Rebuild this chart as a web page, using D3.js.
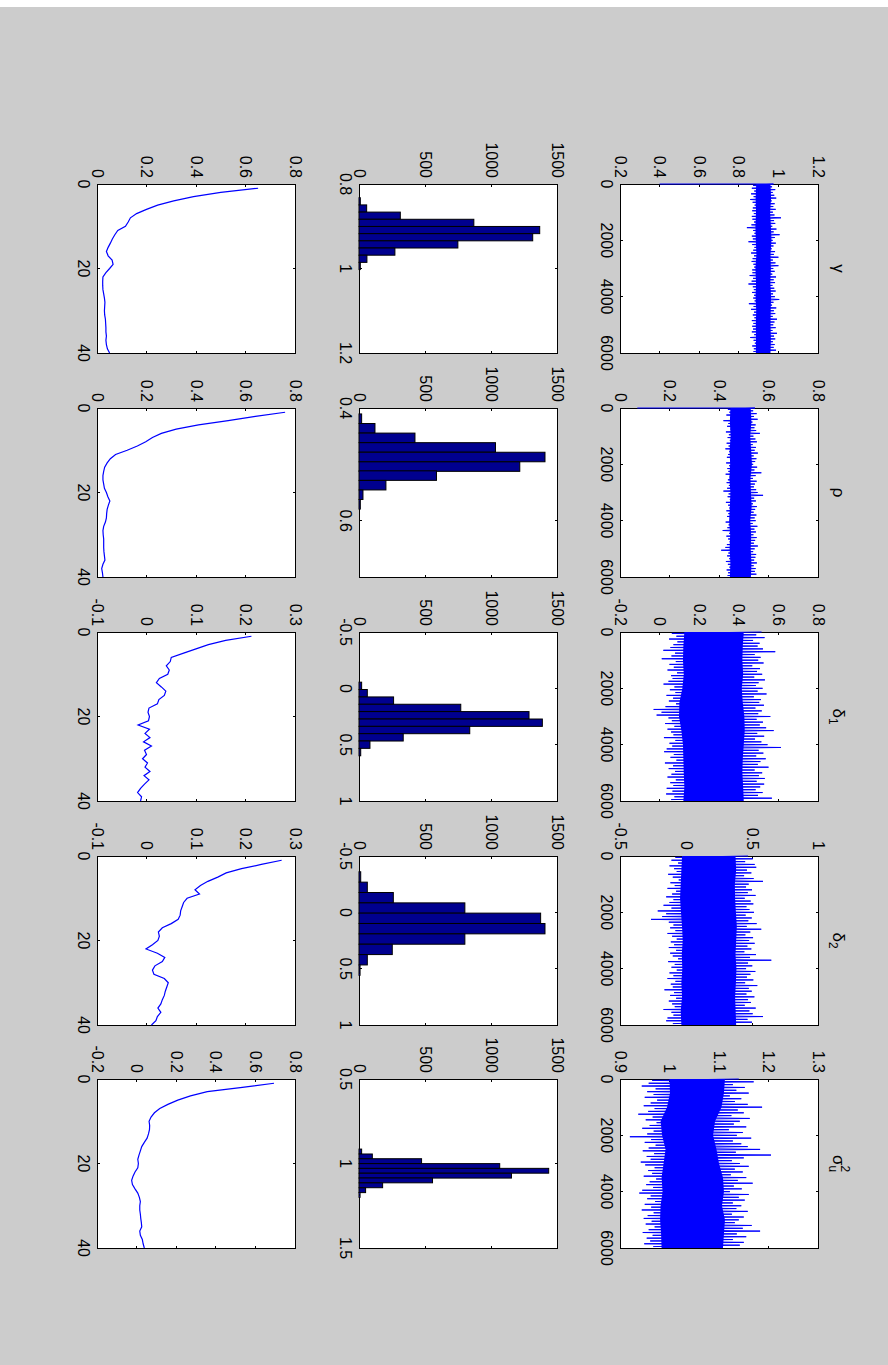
<!DOCTYPE html>
<html>
<head>
<meta charset="utf-8">
<script src="https://cdn.jsdelivr.net/npm/d3@7/dist/d3.min.js"></script>
<style>
  body { margin: 0; background: #fff; }
  text { font-family: "Liberation Sans", Arial, Helvetica, sans-serif; fill: #000; }
</style>
</head>
<body>
<script>
// MCMC output for five parameters: trace, histogram and autocorrelation.
// The figure is laid out landscape and then turned 90 degrees clockwise.

const titleBase = ["γ", "ρ", "δ", "δ", "σ"];
const titleSup  = ["", "", "", "", "2"];
const titleSub  = ["", "", "1", "2", "u"];

// ---- trace plots ----
// spike extents, one pair every 100 draws
const traceIter = d3.range(25, 6000, 100);
// edges of the solid core of each trace, every 500 draws
const coreIter = d3.range(0, 6001, 500);
const traceStart = [0.4, 0.07, null, null, null];
const traceDomain = [[0.2, 1.2], [0, 0.8], [-0.2, 0.8], [-0.5, 1], [0.9, 1.3]];
const traceTicks = [
  [0.2, 0.4, 0.6, 0.8, 1, 1.2],
  [0, 0.2, 0.4, 0.6, 0.8],
  [-0.2, 0, 0.2, 0.4, 0.6, 0.8],
  [-0.5, 0, 0.5, 1],
  [0.9, 1, 1.1, 1.2, 1.3]
];
const iterTicks = [0, 2000, 4000, 6000];

const gammaHi = [0.975,0.968,0.984,0.971,0.979,0.989,0.966,0.981,0.974,0.986,
  0.972,0.980,1.013,0.978,0.984,0.969,0.990,0.976,1.006,0.982,
  0.971,0.987,0.975,0.966,0.983,0.977,1.000,0.972,0.985,1.000,
  0.974,0.981,0.969,0.988,0.976,0.983,0.970,0.979,0.986,0.973,
  0.982,1.004,0.975,0.968,0.989,0.977,0.984,0.971,0.993,0.980,
  0.974,0.986,0.970,0.993,0.978,0.984,0.972,0.981,0.976,0.988];
const gammaLo = [0.872,0.866,0.878,0.862,0.875,0.858,0.870,0.880,0.871,0.868,
  0.876,0.866,0.869,0.877,0.864,0.841,0.873,0.879,0.866,0.871,
  0.849,0.868,0.879,0.873,0.862,0.877,0.870,0.865,0.874,0.878,
  0.868,0.869,0.855,0.872,0.865,0.849,0.871,0.876,0.867,0.877,
  0.873,0.880,0.851,0.875,0.862,0.877,0.871,0.879,0.866,0.874,
  0.868,0.872,0.866,0.878,0.858,0.875,0.881,0.868,0.876,0.873];
const gammaCoreLo = [0.888,0.885,0.887,0.884,0.886,0.889,0.884,0.887,0.885,0.888,0.886,0.887,0.886];
const gammaCoreHi = [0.960,0.963,0.958,0.962,0.965,0.960,0.962,0.959,0.963,0.961,0.960,0.962,0.960];

const rhoHi = [0.545,0.538,0.552,0.541,0.556,0.535,0.548,0.543,0.550,0.565,
  0.539,0.547,0.553,0.536,0.549,0.544,0.557,0.540,0.551,0.546,
  0.538,0.554,0.543,0.571,0.548,0.537,0.552,0.545,0.541,0.550,
  0.556,0.578,0.542,0.549,0.537,0.553,0.546,0.540,0.551,0.544,
  0.548,0.536,0.555,0.543,0.549,0.539,0.552,0.546,0.541,0.557,
  0.544,0.538,0.550,0.547,0.542,0.553,0.540,0.548,0.545,0.551];
const rhoLo = [0.436,0.442,0.430,0.445,0.418,0.438,0.433,0.447,0.428,0.440,
  0.435,0.444,0.431,0.439,0.426,0.442,0.437,0.432,0.446,0.429,
  0.441,0.434,0.438,0.427,0.443,0.436,0.431,0.440,0.433,0.418,
  0.439,0.435,0.444,0.428,0.437,0.442,0.430,0.438,0.433,0.445,
  0.427,0.439,0.434,0.415,0.441,0.430,0.437,0.443,0.432,0.426,
  0.409,0.438,0.433,0.441,0.428,0.436,0.442,0.431,0.437,0.434];
const rhoCoreLo = [0.446,0.444,0.447,0.443,0.445,0.442,0.446,0.444,0.441,0.445,0.443,0.446,0.444];
const rhoCoreHi = [0.528,0.531,0.526,0.530,0.533,0.527,0.529,0.532,0.526,0.530,0.528,0.531,0.529];

const d1Hi = [0.515,0.488,0.530,0.472,0.505,0.495,0.522,0.584,0.480,0.510,
  0.498,0.525,0.468,0.507,0.492,0.518,0.478,0.532,0.500,0.486,
  0.520,0.495,0.540,0.476,0.512,0.503,0.527,0.484,0.516,0.498,
  0.559,0.490,0.522,0.506,0.538,0.576,0.493,0.528,0.482,0.514,
  0.545,0.613,0.500,0.524,0.488,0.536,0.509,0.496,0.550,0.480,
  0.518,0.502,0.531,0.490,0.528,0.508,0.485,0.520,0.497,0.567];
const d1Lo = [0.062,0.085,0.048,0.090,0.070,0.055,0.019,0.078,0.060,0.011,
  0.082,0.050,0.072,0.040,0.088,0.058,0.066,0.045,0.020,0.075,
  0.052,0.080,0.035,0.068,0.047,0.083,0.030,-0.030,0.010,-0.015,
  0.045,0.062,0.028,0.075,0.040,0.058,0.070,0.022,0.080,0.050,
  0.064,0.036,0.023,0.072,0.055,0.085,0.027,0.068,0.046,0.078,
  0.060,0.040,0.082,0.054,0.070,0.036,0.065,0.033,0.075,0.058];
const d1CoreLo = [0.125,0.120,0.118,0.122,0.115,0.100,0.098,0.110,0.118,0.120,0.122,0.125,0.120];
const d1CoreHi = [0.425,0.420,0.418,0.422,0.415,0.420,0.428,0.430,0.425,0.420,0.418,0.422,0.425];

const d2Hi = [0.470,0.505,0.448,0.520,0.532,0.462,0.495,0.440,0.512,0.583,
  0.475,0.455,0.500,0.468,0.527,0.445,0.490,0.510,0.458,0.480,
  0.515,0.452,0.498,0.472,0.535,0.460,0.570,0.487,0.450,0.508,
  0.478,0.520,0.465,0.495,0.442,0.530,0.485,0.646,0.470,0.502,
  0.455,0.525,0.488,0.462,0.510,0.448,0.540,0.476,0.498,0.458,
  0.518,0.470,0.492,0.445,0.528,0.480,0.505,0.583,0.466,0.500];
const d2Lo = [-0.080,-0.110,-0.060,-0.125,-0.090,-0.070,-0.135,-0.100,-0.055,-0.118,
  -0.085,-0.140,-0.075,-0.105,-0.150,-0.095,-0.125,-0.170,-0.110,-0.214,
  -0.150,-0.180,-0.265,-0.130,-0.095,-0.120,-0.080,-0.140,-0.105,-0.070,
  -0.115,-0.090,-0.130,-0.075,-0.120,-0.100,-0.060,-0.135,-0.085,-0.110,
  -0.070,-0.125,-0.095,-0.140,-0.080,-0.115,-0.100,-0.163,-0.090,-0.120,
  -0.075,-0.130,-0.105,-0.085,-0.170,-0.110,-0.095,-0.140,-0.150,-0.100];
const d2CoreLo = [-0.030,-0.035,-0.040,-0.045,-0.038,-0.030,-0.025,-0.032,-0.028,-0.035,-0.030,-0.040,-0.035];
const d2CoreHi = [0.375,0.380,0.370,0.372,0.378,0.385,0.380,0.375,0.382,0.378,0.372,0.376,0.380];

const s2Hi = [1.140,1.170,1.128,1.152,1.135,1.160,1.122,1.145,1.132,1.158,
  1.187,1.138,1.150,1.125,1.162,1.142,1.130,1.155,1.120,1.148,
  1.136,1.165,1.128,1.145,1.158,1.183,1.134,1.205,1.150,1.126,
  1.142,1.160,1.132,1.148,1.124,1.155,1.138,1.168,1.130,1.146,
  1.122,1.160,1.140,1.152,1.128,1.145,1.135,1.158,1.126,1.150,
  1.140,1.132,1.166,1.148,1.183,1.136,1.155,1.128,1.150,1.142];
const s2Lo = [0.965,0.958,0.944,0.972,0.955,0.968,0.950,0.975,0.962,0.948,
  0.970,0.957,0.937,0.966,0.952,0.974,0.960,0.945,0.968,0.955,
  0.920,0.963,0.950,0.972,0.958,0.946,0.969,0.954,0.962,0.942,
  0.951,0.970,0.957,0.965,0.948,0.973,0.960,0.953,0.967,0.945,
  0.939,0.962,0.955,0.971,0.950,0.963,0.944,0.968,0.956,0.948,
  0.964,0.952,0.970,0.958,0.946,0.966,0.954,0.961,0.949,0.967];
const s2CoreLo = [1.000,1.001,0.995,0.982,0.985,0.992,0.988,0.984,0.986,0.982,0.981,0.983,0.984];
const s2CoreHi = [1.112,1.110,1.105,1.092,1.088,1.095,1.100,1.108,1.110,1.106,1.112,1.110,1.108];

const traceHi = [gammaHi, rhoHi, d1Hi, d2Hi, s2Hi];
const traceLo = [gammaLo, rhoLo, d1Lo, d2Lo, s2Lo];
const coreHi = [gammaCoreHi, rhoCoreHi, d1CoreHi, d2CoreHi, s2CoreHi];
const coreLo = [gammaCoreLo, rhoCoreLo, d1CoreLo, d2CoreLo, s2CoreLo];

// ---- histograms ----
const histDomain = [[0.8, 1.2], [0.4, 0.7], [-0.5, 1], [-0.5, 1], [0.5, 1.5]];
const histTicks = [[0.8, 1, 1.2], [0.4, 0.6], [-0.5, 0, 0.5, 1], [-0.5, 0, 0.5, 1], [0.5, 1, 1.5]];
const countTicks = [0, 500, 1000, 1500];
const histCenters = [
  [0.841, 0.858, 0.875, 0.892, 0.909, 0.926, 0.943, 0.960, 0.977, 0.994],
  [0.419, 0.436, 0.453, 0.470, 0.487, 0.504, 0.520, 0.537, 0.554, 0.571],
  [-0.022, 0.043, 0.109, 0.174, 0.239, 0.305, 0.370, 0.435, 0.500, 0.566],
  [-0.314, -0.222, -0.130, -0.038, 0.053, 0.145, 0.237, 0.329, 0.421, 0.513],
  [0.929, 0.958, 0.986, 1.015, 1.043, 1.072, 1.100, 1.129, 1.158, 1.186]
];
const histCounts = [
  [10, 58, 313, 870, 1369, 1316, 749, 272, 60, 10],
  [20, 121, 424, 1034, 1409, 1218, 587, 204, 30, 10],
  [20, 63, 262, 771, 1288, 1389, 839, 335, 83, 13],
  [13, 63, 260, 802, 1376, 1409, 802, 252, 63, 8],
  [20, 101, 474, 1066, 1437, 1155, 557, 179, 50, 8]
];

// ---- autocorrelations, lags 1..40 ----
const lags = d3.range(1, 41);
const lagTicks = [0, 20, 40];
const acfDomain = [[0, 0.8], [0, 0.8], [-0.1, 0.3], [-0.1, 0.3], [-0.2, 0.8]];
const acfTicks = [
  [0, 0.2, 0.4, 0.6, 0.8],
  [0, 0.2, 0.4, 0.6, 0.8],
  [-0.1, 0, 0.1, 0.2, 0.3],
  [-0.1, 0, 0.1, 0.2, 0.3],
  [-0.2, 0, 0.2, 0.4, 0.6, 0.8]
];
const gammaAcf = [0.651,0.500,0.390,0.310,0.245,0.200,0.160,0.135,0.126,0.115,
  0.084,0.072,0.062,0.054,0.045,0.038,0.045,0.061,0.065,0.051,
  0.036,0.024,0.023,0.023,0.024,0.027,0.030,0.032,0.031,0.030,
  0.031,0.034,0.035,0.036,0.036,0.038,0.036,0.038,0.042,0.051];
const rhoAcf = [0.760,0.640,0.530,0.410,0.320,0.260,0.224,0.197,0.163,0.122,
  0.075,0.054,0.041,0.031,0.027,0.024,0.024,0.027,0.030,0.038,
  0.044,0.052,0.046,0.041,0.039,0.038,0.034,0.027,0.024,0.025,
  0.027,0.027,0.027,0.028,0.030,0.032,0.024,0.019,0.022,0.024];
const d1Acf = [0.212,0.160,0.125,0.100,0.075,0.050,0.048,0.040,0.046,0.043,
  0.026,0.020,0.030,0.039,0.036,0.025,0.022,0.005,0.003,0.006,
  0.004,-0.017,0.006,-0.003,0.007,-0.006,0.010,-0.004,0.000,-0.008,
  0.002,-0.003,0.007,-0.005,0.005,-0.004,-0.012,-0.018,-0.010,-0.012];
const d2Acf = [0.273,0.232,0.192,0.161,0.144,0.124,0.109,0.098,0.107,0.082,
  0.075,0.072,0.069,0.068,0.064,0.050,0.032,0.024,0.026,0.023,
  0.012,-0.001,0.022,0.037,0.032,0.017,0.012,0.015,0.036,0.044,
  0.041,0.038,0.036,0.032,0.029,0.023,0.029,0.022,0.019,0.010];
const s2Acf = [0.694,0.534,0.357,0.272,0.208,0.158,0.117,0.090,0.073,0.063,
  0.066,0.065,0.060,0.053,0.039,0.026,0.019,0.012,0.006,0.009,
  0.006,-0.008,-0.018,-0.025,-0.021,-0.008,0.006,0.014,0.019,0.016,
  0.016,0.019,0.021,0.024,0.026,0.016,0.019,0.029,0.033,0.039];
const acfValues = [gammaAcf, rhoAcf, d1Acf, d2Acf, s2Acf];

// ---- layout (in the unrotated, landscape frame) ----
const W = 888, H = 1365;
const colLeft = [184, 408, 632, 856, 1079];
const panelW = 169;
const panelH = 198;
const rowTop = [70, 331, 593];
const tickLen = 2.5;
const blue = "#0000ff";
const navy = "#00008f";
const fmt = d => String(+d.toFixed(3));

const svg = d3.select("body").append("svg")
  .attr("width", W)
  .attr("height", H);

svg.append("rect").attr("width", W).attr("height", H).attr("fill", "#fff");
svg.append("rect").attr("y", 7).attr("width", W).attr("height", H - 7).attr("fill", "#cccccc");

// rotate the whole figure clockwise
const fig = svg.append("g").attr("transform", `translate(${W},0) rotate(90)`);

let clipId = 0;

// Draw an axes box with MATLAB-like inward ticks on all four sides.
function makeAxes(left, top, xDomain, yDomain, xTicks, yTicks) {
  const x = d3.scaleLinear().domain(xDomain).range([left, left + panelW]);
  const y = d3.scaleLinear().domain(yDomain).range([top + panelH, top]);
  const g = fig.append("g");

  g.append("rect")
    .attr("x", left).attr("y", top)
    .attr("width", panelW).attr("height", panelH)
    .attr("fill", "#fff");

  const ticks = g.append("g")
    .attr("stroke", "#000")
    .attr("stroke-width", 1)
    .attr("shape-rendering", "crispEdges");

  xTicks.forEach(t => {
    ticks.append("line").attr("x1", x(t)).attr("x2", x(t))
      .attr("y1", top + panelH).attr("y2", top + panelH - tickLen);
    ticks.append("line").attr("x1", x(t)).attr("x2", x(t))
      .attr("y1", top).attr("y2", top + tickLen);
  });
  yTicks.forEach(t => {
    ticks.append("line").attr("x1", left).attr("x2", left + tickLen)
      .attr("y1", y(t)).attr("y2", y(t));
    ticks.append("line").attr("x1", left + panelW).attr("x2", left + panelW - tickLen)
      .attr("y1", y(t)).attr("y2", y(t));
  });

  g.append("rect")
    .attr("x", left).attr("y", top)
    .attr("width", panelW).attr("height", panelH)
    .attr("fill", "none")
    .attr("stroke", "#000")
    .attr("stroke-width", 1)
    .attr("shape-rendering", "crispEdges");

  g.selectAll(".xl")
    .data(xTicks)
    .enter()
    .append("text")
    .attr("x", d => x(d))
    .attr("y", top + panelH + 19)
    .attr("text-anchor", "middle")
    .style("font-size", "16px")
    .text(fmt);

  g.selectAll(".yl")
    .data(yTicks)
    .enter()
    .append("text")
    .attr("x", left - 6)
    .attr("y", d => y(d) + 5.5)
    .attr("text-anchor", "end")
    .style("font-size", "16px")
    .text(fmt);

  const id = "clip" + (clipId++);
  svg.append("clipPath").attr("id", id)
    .append("rect")
    .attr("x", left - 1).attr("y", top - 1)
    .attr("width", panelW + 2).attr("height", panelH + 2);
  const plot = g.append("g").attr("clip-path", `url(#${id})`);

  return { x, y, plot };
}

titleBase.forEach((name, i) => {
  const left = colLeft[i];

  // title
  const title = fig.append("text")
    .attr("x", left + panelW / 2)
    .attr("y", 55)
    .attr("text-anchor", "middle")
    .style("font-size", "17px")
    .text(name);
  if (titleSup[i]) {
    title.append("tspan").attr("dy", -8).style("font-size", "12px").text(titleSup[i]);
    title.append("tspan").attr("dx", -6.7).attr("dy", 12).style("font-size", "12px").text(titleSub[i]);
  } else if (titleSub[i]) {
    title.append("tspan").attr("dy", 4).style("font-size", "12px").text(titleSub[i]);
  }

  // trace: solid core plus the spikes
  const tr = makeAxes(left, rowTop[0], [0, 6000], traceDomain[i], iterTicks, traceTicks[i]);
  tr.plot.append("path")
    .datum(coreIter.map((it, j) => [it, coreLo[i][j], coreHi[i][j]]))
    .attr("fill", blue)
    .attr("d", d3.area().x(d => tr.x(d[0])).y0(d => tr.y(d[1])).y1(d => tr.y(d[2])));

  const pts = [];
  if (traceStart[i] !== null) pts.push([1, traceStart[i]]);
  traceIter.forEach((it, j) => {
    pts.push([it - 25, traceHi[i][j]]);
    pts.push([it + 25, traceLo[i][j]]);
  });
  tr.plot.append("path")
    .datum(pts)
    .attr("fill", "none")
    .attr("stroke", blue)
    .attr("stroke-width", 1)
    .attr("stroke-linejoin", "round")
    .attr("d", d3.line().x(d => tr.x(d[0])).y(d => tr.y(d[1])));

  // histogram
  const hs = makeAxes(left, rowTop[1], histDomain[i], [0, 1500], histTicks[i], countTicks);
  const c = histCenters[i];
  const bw = (c[c.length - 1] - c[0]) / (c.length - 1);
  hs.plot.selectAll("rect.bar")
    .data(c.map((v, j) => ({ v, n: histCounts[i][j] })))
    .enter()
    .append("rect")
    .attr("class", "bar")
    .attr("x", d => hs.x(d.v - bw / 2))
    .attr("width", d => hs.x(d.v + bw / 2) - hs.x(d.v - bw / 2))
    .attr("y", d => hs.y(d.n))
    .attr("height", d => hs.y(0) - hs.y(d.n))
    .attr("fill", navy)
    .attr("stroke", "#000")
    .attr("stroke-width", 1);

  // autocorrelation
  const ac = makeAxes(left, rowTop[2], [0, 40], acfDomain[i], lagTicks, acfTicks[i]);
  ac.plot.append("path")
    .datum(lags.map((l, j) => [l, acfValues[i][j]]))
    .attr("fill", "none")
    .attr("stroke", blue)
    .attr("stroke-width", 1.2)
    .attr("d", d3.line().x(d => ac.x(d[0])).y(d => ac.y(d[1])));
});
</script>
</body>
</html>
